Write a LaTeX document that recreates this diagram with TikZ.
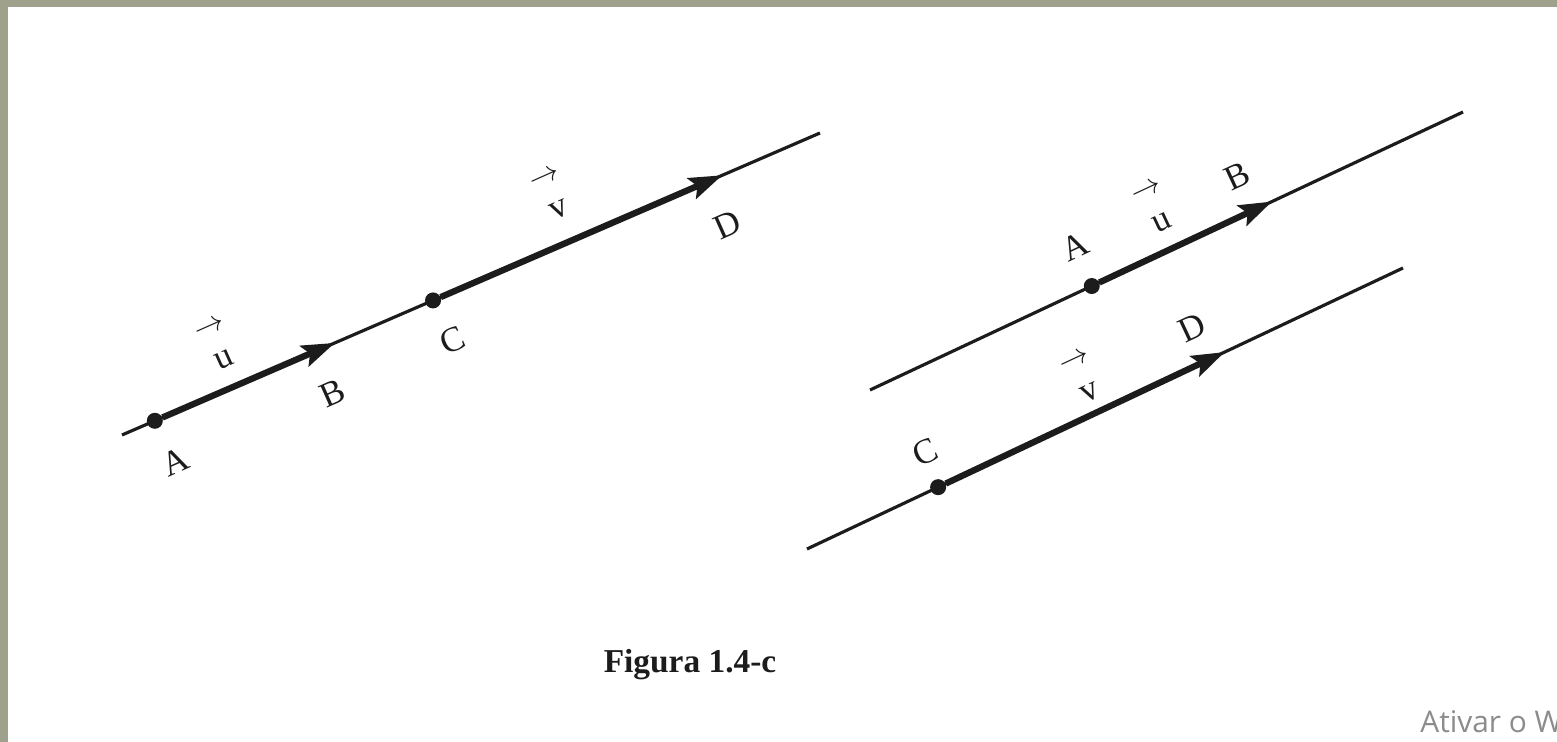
\documentclass[tikz,border=0pt]{standalone}
\usepackage{fontspec}
\setmainfont{Liberation Serif}
\newfontfamily\wmfont{Open Sans}
\usetikzlibrary{calc,arrows.meta}
\definecolor{frame}{RGB}{160,161,140}
\definecolor{ink}{RGB}{28,28,28}
\tikzset{
  thinline/.style={ink, line width=1.8pt},
  thickline/.style={ink, line width=3.6pt, -{Stealth[length=0.66cm,width=0.44cm,inset=0.12cm]}},
  pt/.style={circle, fill=ink, inner sep=0pt, minimum size=0.32cm},
  lab/.style={font=\fontsize{20}{24}\selectfont, text=ink, inner sep=0pt},
  vlab/.style={lab, align=center},
}
\begin{document}
\begin{tikzpicture}
  % page and frame
  \useasboundingbox (0,0) rectangle (31.14,14.84);
  \fill[white] (0,0) rectangle (31.14,14.84);
  \fill[frame] (0,14.70) rectangle (31.14,14.84);
  \fill[frame] (0,0) rectangle (0.16,14.84);

  % left figure: one line, u then v
  \coordinate (L0) at (2.44,6.14);
  \coordinate (L1) at (16.40,12.18);
  \node[pt] (A1) at ($(L0)!0.047!(L1)$) {};
  \coordinate (B1) at ($(L0)!0.305!(L1)$);
  \node[pt] (C1) at ($(L0)!0.4456!(L1)$) {};
  \coordinate (D1) at ($(L0)!0.86!(L1)$);
  \draw[thinline] (L0) -- (L1);
  \draw[thickline] (A1) -- (B1);
  \draw[thickline] (C1) -- (D1);
  \node[lab, rotate=24] (labA1) at (3.50,5.60) {A};
  \node[lab, rotate=24] (labB1) at (6.66,6.98) {B};
  \node[lab, rotate=24] (labC1) at (9.06,8.04) {C};
  \node[lab, rotate=24] (labD1) at (14.54,10.34) {D};
  \node[vlab, rotate=24] (labu1) at (4.36,7.94) {{\fontsize{16}{16}\selectfont$\rightarrow$}\\[-3pt]u};
  \node[vlab, rotate=24] (labv1) at (11.06,10.94) {{\fontsize{16}{16}\selectfont$\rightarrow$}\\[-3pt]v};

  % right figure: two parallel lines
  \coordinate (U0) at (17.40,7.04);
  \coordinate (U1) at (29.26,12.60);
  \node[pt] (A2) at ($(U0)!0.374!(U1)$) {};
  \coordinate (B2) at ($(U0)!0.678!(U1)$);
  \draw[thinline] (U0) -- (U1);
  \draw[thickline] (A2) -- (B2);
  \coordinate (W0) at (16.14,3.86);
  \coordinate (W1) at (28.06,9.48);
  \node[pt] (C2) at ($(W0)!0.22!(W1)$) {};
  \coordinate (D2) at ($(W0)!0.701!(W1)$);
  \draw[thinline] (W0) -- (W1);
  \draw[thickline] (C2) -- (D2);
  \node[lab, rotate=25] (labA2) at (21.50,9.90) {A};
  \node[lab, rotate=25] (labB2) at (24.74,11.32) {B};
  \node[lab, rotate=25] (labC2) at (18.50,5.80) {C};
  \node[lab, rotate=25] (labD2) at (23.84,8.28) {D};
  \node[vlab, rotate=25] (labu2) at (23.10,10.68) {{\fontsize{16}{16}\selectfont$\rightarrow$}\\[-3pt]u};
  \node[vlab, rotate=25] (labv2) at (21.66,7.28) {{\fontsize{16}{16}\selectfont$\rightarrow$}\\[-3pt]v};

  % caption and watermark
  \node[font=\bfseries\fontsize{19}{22}\selectfont, text=ink] (caption) at (13.80,1.54) {Figura 1.4-c};
  \node[anchor=base west, inner sep=0pt, font=\wmfont\fontsize{17}{20}\selectfont, text=black!45] (wmark) at (28.40,0.18) {Ativar o W};
\end{tikzpicture}
\end{document}
